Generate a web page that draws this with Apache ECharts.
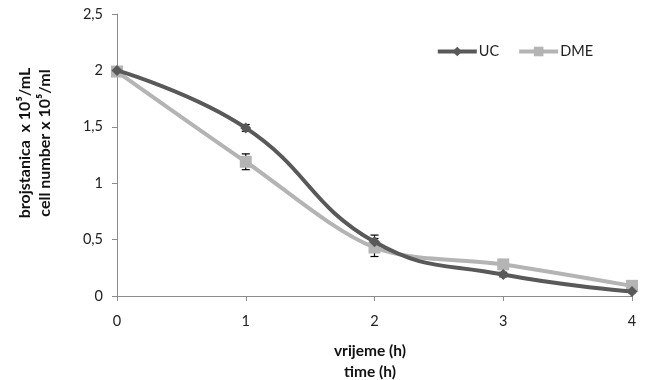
<!DOCTYPE html>
<html>
<head>
<meta charset="utf-8">
<script src="https://cdn.jsdelivr.net/npm/echarts@6/dist/echarts.min.js"></script>
<style>html,body{margin:0;padding:0;background:#fff}#c{width:646px;height:380px}</style>
</head>
<body>
<div id="c"></div>
<script>
var times = [0, 1, 2, 3, 4];
var ucValues = [2.00, 1.49, 0.48, 0.19, 0.04];
var ucErrors = [0.02, 0.03, 0.06, 0.02, 0.01];
var dmeValues = [1.99, 1.19, 0.43, 0.28, 0.09];
var dmeErrors = [0.03, 0.07, 0.08, 0.04, 0.02];
var yTicks = [0, 0.5, 1, 1.5, 2, 2.5];
var seriesNames = ['UC', 'DME'];
var yTitle = ['brojstanica  x 10\u2075/mL', 'cell number x 10\u2075/ml'];
var xTitle = ['vrijeme (h)', 'time (h)'];

var FONT = 'Lato, "Liberation Sans", sans-serif';
var chart = echarts.init(document.getElementById('c'), null, {renderer: 'canvas'});

function errSeries(vals, errs) {
  var d = times.map(function (t, i) { return [t, vals[i] - errs[i], vals[i] + errs[i]]; });
  return {
    type: 'custom', silent: true, z: 1,
    data: d,
    renderItem: function (params, api) {
      var lo = api.coord([api.value(0), api.value(1)]);
      var hi = api.coord([api.value(0), api.value(2)]);
      var w = 4;
      var st = {stroke: '#000', lineWidth: 1.2};
      return {type: 'group', children: [
        {type: 'line', shape: {x1: lo[0], y1: lo[1], x2: hi[0], y2: hi[1]}, style: st},
        {type: 'line', shape: {x1: lo[0] - w, y1: lo[1], x2: lo[0] + w, y2: lo[1]}, style: st},
        {type: 'line', shape: {x1: hi[0] - w, y1: hi[1], x2: hi[0] + w, y2: hi[1]}, style: st}
      ]};
    }
  };
}

chart.setOption({
  animation: false,
  grid: {left: 117, right: 14, top: 14, bottom: 84},
  legend: {
    right: 48, top: 39,
    itemWidth: 39, itemHeight: 12, itemGap: 18,
    lineStyle: {width: 4},
    textStyle: {fontFamily: FONT, fontSize: 14.5, color: '#222', padding: [0,0,0,-3]},
    data: seriesNames
  },
  xAxis: {
    type: 'value', min: 0, max: 4, interval: 1,
    axisLine: {lineStyle: {color: '#8c8c8c', width: 1}},
    axisTick: {show: true, length: 5, lineStyle: {color: '#8c8c8c'}},
    axisLabel: {fontFamily: FONT, fontSize: 14.5, color: '#222', margin: 18},
    splitLine: {show: false}
  },
  yAxis: {
    type: 'value', min: yTicks[0], max: yTicks[yTicks.length - 1], interval: 0.5,
    axisLine: {show: true, lineStyle: {color: '#8c8c8c', width: 1}},
    axisTick: {show: true, length: 5, lineStyle: {color: '#8c8c8c'}},
    axisLabel: {fontFamily: FONT, fontSize: 14.5, color: '#222', margin: 14,
      formatter: function (v) { return String(v).replace('.', ','); }},
    splitLine: {show: false}
  },
  graphic: [
    {type: 'text', x: 35, y: 143, rotation: Math.PI / 2,
      style: {text: yTitle.join('\n'), font: 'bold 16px ' + FONT, fill: '#111',
        textAlign: 'center', textVerticalAlign: 'middle', lineHeight: 20}},
    {type: 'text', x: 370, y: 361,
      style: {text: xTitle.join('\n'), font: 'bold 15.5px ' + FONT, fill: '#111',
        textAlign: 'center', textVerticalAlign: 'middle', lineHeight: 21}}
  ],
  series: [
    errSeries(ucValues, ucErrors),
    errSeries(dmeValues, dmeErrors),
    {
      name: seriesNames[0], type: 'line', smooth: 0.45, z: 3,
      data: times.map(function (t, i) { return [t, ucValues[i]]; }),
      symbol: 'diamond', symbolSize: 11,
      lineStyle: {color: '#595959', width: 4},
      itemStyle: {color: '#595959'}
    },
    {
      name: seriesNames[1], type: 'line', smooth: 0.3, z: 2,
      data: times.map(function (t, i) { return [t, dmeValues[i]]; }),
      symbol: 'rect', symbolSize: 12,
      lineStyle: {color: '#b4b4b4', width: 4},
      itemStyle: {color: '#b4b4b4'}
    }
  ]
});
</script>
</body>
</html>
